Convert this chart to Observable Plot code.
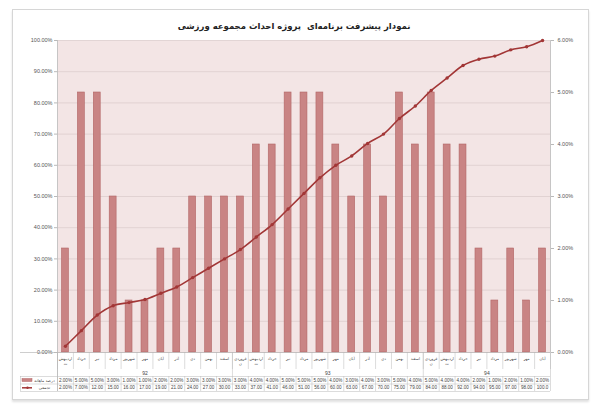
<!DOCTYPE html>
<html><head><meta charset="utf-8">
<script src="https://cdn.jsdelivr.net/npm/d3@7"></script>
<script src="https://cdn.jsdelivr.net/npm/@observablehq/plot@0.6"></script>
<style>
body{margin:0;background:#fff;}
#wrap{position:relative;width:600px;height:411px;overflow:hidden;}
#frame{position:absolute;left:12px;top:9px;width:575px;height:389px;border:1px solid #d6d6d6;box-shadow:0 2px 2px rgba(0,0,0,.12);background:#fff;}
#chart{position:absolute;left:0;top:0;}
</style></head><body>
<div id="wrap"><div id="frame"></div><div id="chart"></div></div>
<script>
const title = "نمودار پیشرفت برنامه‌ای  پروژه احداث مجموعه ورزشی";
const months = [
  "اردیبهشت","خرداد","تیر","مرداد","شهریور","مهر","آبان","آذر","دی","بهمن","اسفند",
  "فروردین","اردیبهشت","خرداد","تیر","مرداد","شهریور","مهر","آبان","آذر","دی","بهمن","اسفند",
  "فروردین","اردیبهشت","خرداد","تیر","مرداد","شهریور","مهر","آبان"
];
const years = ["92","93","94"];
const yearCounts = [11,12,8];
const monthly = [2,5,5,3,1,1,2,2,3,3,3,3,4,4,5,5,5,4,3,4,3,5,4,5,4,4,2,1,2,1,2];
const cumulative = [2,7,12,15,16,17,19,21,24,27,30,33,37,41,46,51,56,60,63,67,70,75,79,84,88,92,94,95,97,98,100];
const leftTicks = [0,10,20,30,40,50,60,70,80,90,100];
const rightTicks = [0,1,2,3,4,5,6];
const rightMax = 6;
const rowLabels = ["درصد ماهانه","تجمعی"];

const W = 600, H = 411, mL = 57, mR = 50, mT = 40, mB = 59;
const N = months.length;
const pxY = p => -p * 100 / (H - mT - mB);      // p pixels below baseline
const pxX = p => p * N / (W - mL - mR);          // p pixels along x
const fmt = v => (v.toFixed(2) + "%").slice(0, 5);
const wrap = s => s.length >= 7 ? s.slice(0, s.length - 1) + "\n" + s.slice(-1) : s;

const rows = months.map((m, i) => ({i, month: m, monthly: monthly[i], cum: cumulative[i]}));
let acc = 0;
const yearRows = years.map((y, k) => { const r = {year: y, start: acc, end: acc + yearCounts[k]}; acc += yearCounts[k]; return r; });
const bounds = d3.range(0, N + 1);
const yearBounds = [0, ...yearRows.map(d => d.end)];

const barFill = "#c98484", barStroke = "#b26666", lineCol = "#a23636", grid = "#dccdcd", axisCol = "#b9b9b9";
const persian = "DejaVu Sans";

const plot = Plot.plot({
  width: W, height: H,
  marginLeft: mL, marginRight: mR, marginTop: mT, marginBottom: mB,
  x: {type: "linear", domain: [0, N], axis: null},
  y: {domain: [0, 100], axis: null},
  style: {background: "transparent", fontFamily: "Liberation Sans", color: "#555", overflow: "visible"},
  marks: [
    Plot.frame({fill: "#f3e5e5", stroke: null}),
    Plot.ruleY(leftTicks, {stroke: grid, strokeWidth: 0.8}),
    Plot.rectY(rows, {x1: d => d.i, x2: d => d.i + 1, y: d => d.monthly / rightMax * 100,
      insetLeft: 4.5, insetRight: 4.5, fill: barFill, stroke: barStroke, strokeWidth: 0.6}),
    Plot.line(rows, {x: d => d.i + 0.5, y: "cum", stroke: lineCol, strokeWidth: 1.6, curve: "catmull-rom"}),
    Plot.dot(rows, {x: d => d.i + 0.5, y: "cum", r: 1.7, fill: lineCol, stroke: null}),
    // axes lines
    Plot.ruleX([0], {y1: pxY(39), y2: 100, stroke: axisCol, strokeWidth: 0.8}),
    Plot.ruleX([N], {y1: 0, y2: 100, stroke: axisCol, strokeWidth: 0.8}),
    Plot.axisY(leftTicks, {anchor: "left", tickFormat: d => d.toFixed(2) + "%", tickSize: 3, tickPadding: 2,
      fontSize: 5.5, label: null, stroke: axisCol}),
    Plot.axisY(rightTicks.map(d => d / rightMax * 100), {anchor: "right", tickFormat: d => (d / 100 * rightMax).toFixed(2) + "%",
      tickSize: 3, tickPadding: 4, fontSize: 5.5, label: null, stroke: axisCol}),
    // title
    Plot.text([title], {frameAnchor: "top", dy: -18, dx: -10, fontSize: 8.5, fontWeight: "bold", fill: "#222", fontFamily: persian}),
    // category table lines
    Plot.ruleY([0], {x1: pxX(-37), x2: N, stroke: axisCol, strokeWidth: 0.7}),
    Plot.ruleX(bounds, {x: d => d, y1: 0, y2: pxY(17), stroke: axisCol, strokeWidth: 0.5}),
    Plot.ruleX(yearBounds, {x: d => d, y1: 0, y2: pxY(24), stroke: axisCol, strokeWidth: 0.5}),
    Plot.ruleX(bounds, {x: d => d, y1: pxY(24), y2: pxY(39), stroke: axisCol, strokeWidth: 0.5}),
    Plot.ruleX([0], {x: () => pxX(-37), y1: pxY(24), y2: pxY(39), stroke: axisCol, strokeWidth: 0.5}),
    Plot.ruleY([pxY(24), pxY(31.5), pxY(39)], {x1: pxX(-37), x2: N, stroke: axisCol, strokeWidth: 0.5}),
    // month labels
    Plot.text(rows, {x: d => d.i + 0.5, y: pxY(3), text: d => wrap(d.month), lineAnchor: "top",
      fontSize: 3.8, lineHeight: 1.5, fill: "#444", fontFamily: persian}),
    // year labels
    Plot.text(yearRows, {x: d => (d.start + d.end) / 2, y: pxY(20.5), text: "year", fontSize: 5, fill: "#444"}),
    // data table values
    Plot.text(rows, {x: d => d.i + 0.5, y: pxY(27.8), text: d => fmt(d.monthly), fontSize: 4.6, fill: "#444"}),
    Plot.text(rows, {x: d => d.i + 0.5, y: pxY(35.3), text: d => fmt(d.cum), fontSize: 4.6, fill: "#444"}),
    // legend keys in table
    Plot.rect([0], {x1: pxX(-35), x2: pxX(-25), y1: pxY(26.5), y2: pxY(29.5), fill: barFill, stroke: barStroke, strokeWidth: 0.5}),
    Plot.ruleY([pxY(35.3)], {x1: pxX(-35), x2: pxX(-25), stroke: lineCol, strokeWidth: 1.5}),
    Plot.dot([0], {x: pxX(-30), y: pxY(35.3), r: 1.2, fill: lineCol}),
    Plot.text(rowLabels, {x: pxX(-13), y: (d, i) => i === 0 ? pxY(27.8) : pxY(35.3), text: d => d,
      fontSize: 4, fill: "#444", fontFamily: persian})
  ]
});
document.getElementById("chart").appendChild(plot);
</script>
</body></html>
